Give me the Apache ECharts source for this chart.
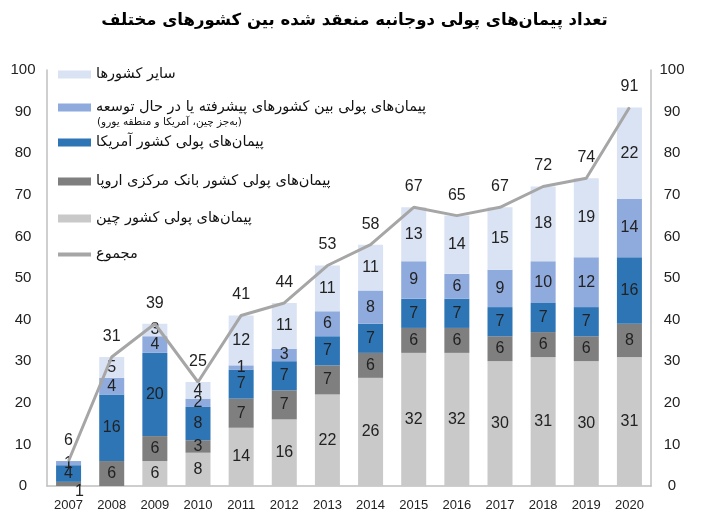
<!DOCTYPE html>
<html><head><meta charset="utf-8">
<script src="https://cdn.jsdelivr.net/npm/echarts@6/dist/echarts.min.js"></script>
<style>html,body{margin:0;padding:0;background:#fff}#c{width:709px;height:525px}</style>
</head><body><div id="c"></div>
<script>
const years = ['2007','2008','2009','2010','2011','2012','2013','2014','2015','2016','2017','2018','2019','2020'];
const china  = [0,0,6,8,14,16,22,26,32,32,30,31,30,31];
const europe = [1,6,6,3,7,7,7,6,6,6,6,6,6,8];
const usa    = [4,16,20,8,7,7,7,7,7,7,7,7,7,16];
const advDev = [1,4,4,2,1,3,6,8,9,6,9,10,12,14];
const others = [0,5,3,4,12,11,11,11,13,14,15,18,19,22];
const totals = [6,31,39,25,41,44,53,58,67,65,67,72,74,91];

const titleText = 'تعداد پیمان‌های پولی دوجانبه منعقد شده بین کشورهای مختلف';
const nOthers = 'سایر کشورها';
const nAdv = 'پیمان‌های پولی بین کشورهای پیشرفته یا در حال توسعه';
const nAdvSub = '(به‌جز چین، آمریکا و منطقه یورو)';
const nUsa = 'پیمان‌های پولی کشور آمریکا';
const nEu = 'پیمان‌های پولی کشور بانک مرکزی اروپا';
const nChina = 'پیمان‌های پولی کشور چین';
const nTotal = 'مجموع';

const colors = {
  others: '#dae3f3', adv: '#8faadc', usa: '#2e75b6', eu: '#7f7f7f', china: '#c9c9c9', total: '#a6a6a6'
};
const faFont = 'DejaVu Sans';
const numFont = 'Liberation Sans';

function barSeries(name, data, color, special) {
  return {
    name, type: 'bar', stack: 'a', barWidth: 25,
    itemStyle: { color },
    label: {
      show: true, position: 'inside', color: '#222', fontSize: 16, fontFamily: numFont,
      formatter: p => (p.value > 0 ? String(p.value) : '')
    },
    data: data.map((v, i) => (special && special[i]) ? { value: v, label: special[i] } : v)
  };
}

function legendItem(name, top, color, opts) {
  return Object.assign({
    left: 58, top, padding: 0, itemWidth: 33, itemHeight: 8, icon: 'rect',
    selectedMode: false,
    data: [{ name, itemStyle: { color } }],
    textStyle: { fontFamily: faFont, fontSize: 14.5, color: '#111' }
  }, opts || {});
}

const chart = echarts.init(document.getElementById('c'));
chart.setOption({
  animation: false,
  backgroundColor: '#fff',
  title: {
    text: titleText, left: 'center', top: 7,
    textStyle: { fontFamily: faFont, fontSize: 16.5, fontWeight: 'bold', color: '#000' }
  },
  grid: { left: 47, right: 58, top: 70, bottom: 39 },
  legend: [
    legendItem(nOthers, 67, colors.others),
    legendItem(nAdv, 100, colors.adv),
    legendItem(nUsa, 135, colors.usa),
    legendItem(nEu, 174, colors.eu),
    legendItem(nChina, 211, colors.china),
    legendItem(nTotal, 247, colors.total, { itemHeight: 4 })
  ],
  graphic: [{
    type: 'text', left: 97, top: 117,
    style: { text: nAdvSub, fontFamily: faFont, fontSize: 10.5, fill: '#111' }
  }],
  xAxis: {
    type: 'category', data: years,
    axisLine: { lineStyle: { color: '#bfbfbf', width: 1.5 } },
    axisTick: { show: false },
    axisLabel: { fontFamily: numFont, fontSize: 13, color: '#222', margin: 13 }
  },
  yAxis: [
    {
      type: 'value', min: 0, max: 100, interval: 10, position: 'left',
      axisLine: { show: true, lineStyle: { color: '#bfbfbf', width: 1.5 } },
      axisTick: { show: false }, splitLine: { show: false },
      axisLabel: { fontFamily: numFont, fontSize: 15, color: '#222', margin: 24, align: 'center' }
    },
    {
      type: 'value', min: 0, max: 100, interval: 10, position: 'right',
      axisLine: { show: true, lineStyle: { color: '#bfbfbf', width: 1.5 } },
      axisTick: { show: false }, splitLine: { show: false },
      axisLabel: { fontFamily: numFont, fontSize: 15, color: '#222', margin: 21, align: 'center' }
    }
  ],
  series: [
    barSeries(nChina, china, colors.china),
    barSeries(nEu, europe, colors.eu, { 0: { offset: [11, 8] } }),
    barSeries(nUsa, usa, colors.usa),
    barSeries(nAdv, advDev, colors.adv),
    barSeries(nOthers, others, colors.others),
    {
      name: nTotal, type: 'line', data: totals, z: 5,
      symbol: 'circle', symbolSize: 1, showSymbol: true,
      itemStyle: { color: colors.total },
      lineStyle: { color: colors.total, width: 3 },
      label: { show: true, position: 'top', distance: 12, color: '#222', fontSize: 16, fontFamily: numFont }
    }
  ]
});
</script></body></html>
